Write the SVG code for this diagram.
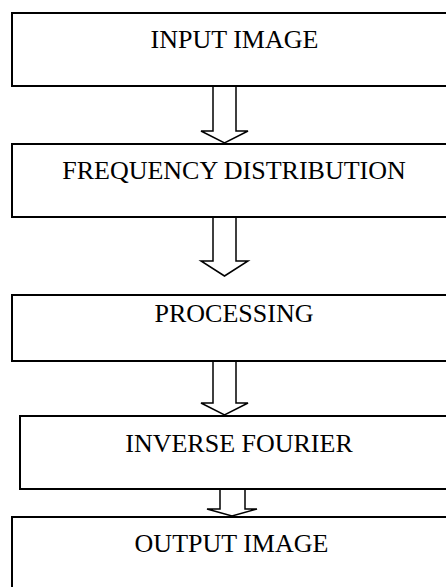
<svg xmlns="http://www.w3.org/2000/svg" width="446" height="587" viewBox="0 0 446 587">
<style>
.box{fill:none;stroke:#000;stroke-width:2}
.arr{fill:#fff;stroke:#000;stroke-width:1.5;stroke-linejoin:miter}
.lbl{font-family:"Liberation Serif","Times New Roman",serif;font-size:26px;fill:#000;text-anchor:middle}
</style>
<rect width="446" height="587" fill="#fff"/>
<g id="connectors">
<polygon class="arr" points="213,86 213,131 201,131 224.5,143 248,131 236,131 236,86"/>
<polygon class="arr" points="213,217 213,261 201,261 224.5,276 248,261 236,261 236,217"/>
<polygon class="arr" points="213,361 213,403 201,403 224.5,415 248,403 236,403 236,361"/>
<polygon class="arr" points="220,489 220,509 207,509 232,516 257,509 245,509 245,489"/>
</g>
<g id="input-image">
<rect class="box" x="12" y="13" width="450" height="73"/>
<text class="lbl" x="234.5" y="48">INPUT IMAGE</text>
</g>
<g id="frequency-distribution">
<rect class="box" x="12" y="144" width="450" height="73"/>
<text class="lbl" x="234" y="179">FREQUENCY DISTRIBUTION</text>
</g>
<g id="processing">
<rect class="box" x="12" y="295" width="450" height="66"/>
<text class="lbl" x="234" y="322">PROCESSING</text>
</g>
<g id="inverse-fourier">
<rect class="box" x="20" y="416" width="450" height="73"/>
<text class="lbl" x="239" y="452">INVERSE FOURIER</text>
</g>
<g id="output-image">
<rect class="box" x="12" y="517" width="450" height="90"/>
<text class="lbl" x="231.5" y="552">OUTPUT IMAGE</text>
</g>
</svg>
